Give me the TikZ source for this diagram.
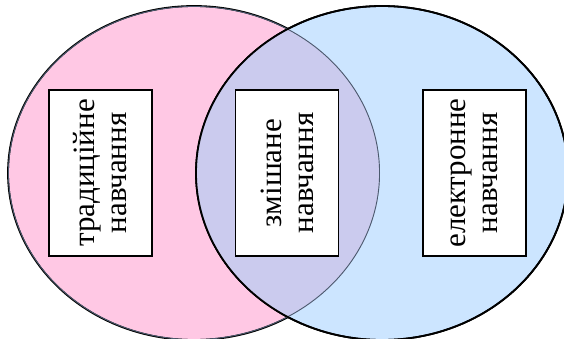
\documentclass[tikz,border=0pt]{standalone}
\usepackage{fontspec}
\setmainfont{Liberation Serif}
\usepackage{tikz}
\definecolor{pinkfill}{HTML}{FFC8E4}
\definecolor{bluefill}{HTML}{CCE5FF}
\definecolor{mixfill}{HTML}{CBCBEE}
\definecolor{arcgray}{HTML}{4B5A6E}
\begin{document}
\begin{tikzpicture}[x=1pt, y=-1pt, line width=1.8pt,
    textbox/.style={draw, fill=white, rotate=90, minimum width=166pt, minimum height=103pt,
        inner sep=0pt, align=center, font=\fontsize{31}{32}\selectfont}]
    \useasboundingbox (0,0) rectangle (564,338);
    \coordinate (lc) at (194,173);
    \coordinate (rc) at (382,173);
    \draw[fill=pinkfill] (lc) ellipse (186 and 167);
    \draw[fill=bluefill] (rc) ellipse (186 and 167);
    \begin{scope}
        \clip (lc) ellipse (186 and 167);
        \fill[mixfill] (rc) ellipse (186 and 167);
        \draw[arcgray] (lc) ellipse (186 and 167);
    \end{scope}
    \draw (rc) ellipse (186 and 167);
    \node[textbox] (trad) at (100.5,173) {традиційне\\навчання};
    \node[textbox] (mixed) at (287,173) {змішане\\навчання};
    \node[textbox] (elearn) at (474.5,173) {електронне\\навчання};
\end{tikzpicture}
\end{document}
